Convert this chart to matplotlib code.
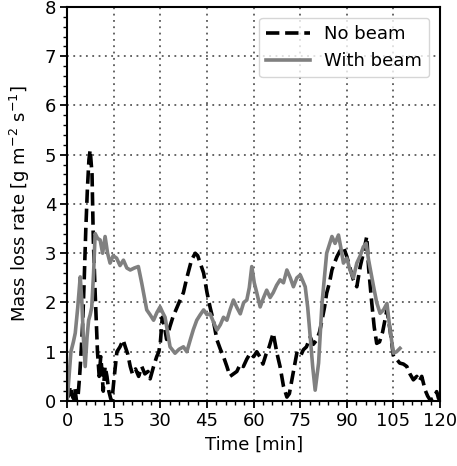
import matplotlib.pyplot as plt
from matplotlib.ticker import MultipleLocator

# No beam (dashed black)
t_nb = [0, 0.5, 1, 1.5, 2, 2.5, 3, 3.5, 4, 4.5, 5, 5.5, 6, 6.5, 7, 7.4, 8, 8.4, 9, 9.75,
        10.3, 10.8, 11.2, 11.6, 12.2, 12.8, 13.4, 14, 14.4, 15, 15.5, 16, 17, 18, 18.7, 19.5,
        20.3, 21, 22, 23, 24, 25, 26, 26.7, 27.8, 28.8, 29.5, 30, 30.6, 31.3, 32, 33, 34, 35,
        36, 37.4, 38.5, 40, 41.2, 42, 42.8, 43.9, 45, 46, 47, 48.2, 49.3, 50.3, 51.4, 52.4,
        53.5, 54.6, 55.7, 56.7, 57.8, 58.9, 60, 61, 62, 63, 64, 65, 66.3, 67.5, 68.5, 69.6,
        70.7, 71.5, 72.3, 73.1, 73.9, 75, 76, 77, 78.2, 79.2, 80.3, 81.2, 82, 82.8, 83.5, 84.4,
        85.2, 86, 86.8, 87.8, 88.9, 90, 91, 92.1, 93.2, 94.3, 95.3, 96.4, 97, 98, 98.8, 99.6,
        100.5, 101.5, 102.9, 103.9, 105, 106, 107, 108.2, 109.3, 110.3, 111.4, 112.5, 113.3,
        114.1, 115.2, 116, 116.8, 117.8, 118.9, 119.5, 120]
v_nb = [0.2, 0.1, 0.3, 0.15, 0.05, 0.25, 0.0, 0.1, 0.5, 1.0, 1.6, 2.5, 3.5, 4.3, 4.9, 5.1, 4.6, 3.3, 2.2, 1.0,
        0.5, 0.9, 0.6, 0.2, 0.7, 0.5, 0.2, 0.05, 0.0, 0.4, 0.7, 1.0, 1.1, 1.24, 1.1, 0.95,
        0.7, 0.55, 0.65, 0.5, 0.7, 0.55, 0.6, 0.45, 0.7, 0.9, 1.0, 1.2, 1.7, 1.5, 1.25, 1.5, 1.7, 1.85,
        2.0, 2.2, 2.5, 2.86, 3.0, 2.95, 2.8, 2.6, 2.2, 1.9, 1.64, 1.24, 1.05, 0.9, 0.7, 0.5,
        0.55, 0.6, 0.75, 0.7, 0.85, 0.97, 0.9, 1.0, 0.9, 0.75, 0.95, 1.1, 1.38, 0.97, 0.7, 0.3,
        0.08, 0.15, 0.43, 0.7, 0.97, 0.9, 1.04, 1.1, 1.3, 1.15, 1.24, 1.4, 1.64, 1.9, 2.19, 2.4,
        2.66, 2.8, 2.93, 3.05, 3.13, 2.93, 2.7, 2.46, 2.32, 2.73, 3.0, 3.34, 2.7, 2.0, 1.5, 1.17,
        1.2, 1.4, 1.85, 1.44, 0.9, 0.85, 0.77, 0.75, 0.7, 0.55, 0.43, 0.5, 0.4,
        0.5, 0.22, 0.1, 0.02, 0.05, 0.19, 0.05, 0.1]

# With beam (solid grey)
t_wb = [0, 0.6, 1.2, 2, 2.6, 3.4, 4.2, 4.7, 5.2, 5.8, 6.4, 6.9, 7.4, 7.9, 8.5, 9, 9.8, 10.6,
        11.4, 12.2, 13, 13.8, 14.8, 15.9, 17, 18.1, 19.2, 20.3, 21.6, 22.9, 24, 25.6, 26.7,
        27.8, 28.9, 29.9, 30.7, 31.5, 32.3, 33.1, 34.7, 36, 37.4, 38.5, 39.6, 40.6, 41.7,
        42.8, 43.9, 45, 46, 47.1, 48.2, 49.3, 50.3, 51.4, 52.4, 53.5, 54.6, 55.7, 56.8, 57.8,
        58.6, 59.4, 60.2, 61, 62.1, 63.2, 64.2, 65.3, 66.3, 67.4, 68.5, 69.6, 70.7, 71.8, 72.8,
        73.9, 75, 76.6, 77.4, 78.2, 79, 79.8, 80.9, 82, 83.5, 85.2, 86.2, 87.3, 88.1, 88.9,
        90, 91, 92.1, 93.2, 94.3, 95.3, 96.2, 97, 98.6, 99.6, 100.7, 101.8, 102.9, 103.9,
        105, 106, 107.1]
v_wb = [0.0, 0.5, 1.0, 1.2, 1.38, 1.9, 2.52, 2.05, 1.3, 0.7, 1.3, 1.64, 1.75, 1.9, 2.6, 3.4, 3.3, 3.27,
        3.0, 3.34, 3.0, 2.8, 2.95, 2.9, 2.75, 2.86, 2.7, 2.66, 2.7, 2.73, 2.39, 1.85, 1.75,
        1.64, 1.8, 1.91, 1.8, 1.7, 1.4, 1.1, 0.97, 1.05, 1.1, 1.0, 1.24, 1.45, 1.64,
        1.75, 1.85, 1.75, 1.77, 1.6, 1.44, 1.55, 1.7, 1.64, 1.85, 2.05, 1.9, 1.77, 2.0, 2.05,
        2.3, 2.73, 2.4, 2.2, 1.91, 2.1, 2.25, 2.1, 2.2, 2.35, 2.46, 2.4, 2.66, 2.5, 2.32,
        2.5, 2.56, 2.32, 1.9, 1.31, 0.7, 0.22, 0.77, 1.98, 3.0, 3.34, 3.2, 3.37, 3.1, 2.8,
        2.9, 2.66, 2.5, 2.8, 2.95, 3.13, 3.2, 2.86, 2.32, 2.0, 1.78, 1.85, 1.98, 1.44,
        0.97, 1.0, 1.07]

fs = 13

fig = plt.figure(figsize=(4.57, 4.66), dpi=100)
ax = fig.add_axes([0.147, 0.1395, 0.816, 0.8455])

ax.plot(t_nb, v_nb, color='black', ls='--', lw=2.6, label='No beam')
ax.plot(t_wb, v_wb, color='grey', ls='-', lw=2.6, label='With beam')

ax.set_xlim(0, 120)
ax.set_ylim(0, 8)
ax.xaxis.set_major_locator(MultipleLocator(15))
ax.xaxis.set_minor_locator(MultipleLocator(3))
ax.yaxis.set_major_locator(MultipleLocator(1))
ax.yaxis.set_minor_locator(MultipleLocator(0.2))
ax.grid(True, which='major', ls=(0, (1, 2.5)), color='0.35', lw=1.3)
ax.tick_params(which='major', length=5, width=1.3, labelsize=fs, pad=3)
ax.tick_params(which='minor', length=3, width=1)
for s in ax.spines.values():
    s.set_linewidth(1.5)

ax.set_xlabel('Time [min]', fontsize=fs, labelpad=4)
ax.set_ylabel('Mass loss rate [g m$^{-2}$ s$^{-1}$]', fontsize=fs, labelpad=9)
ax.legend(loc='upper right', fontsize=fs, handlelength=2.4, borderaxespad=0.6)

fig.savefig('out.png', dpi=100)
